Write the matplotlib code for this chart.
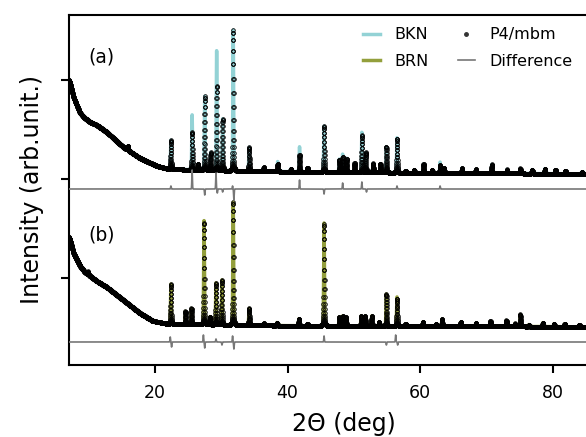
import numpy as np
import matplotlib.pyplot as plt
from matplotlib.lines import Line2D

# scan grid (deg)
two_theta = np.arange(7.0, 90.0, 0.01)

# background control points (arb. units)
bg_a_pos = [7.0, 7.2, 7.7, 8.7, 9.4, 10.2, 11.2, 12.7, 15.2, 17.7, 20.3, 22.0, 30.0, 45.0, 60.0, 90.0]
bg_a_val = [198, 195, 181, 165, 160, 156, 153, 146, 131, 120, 112, 109, 107, 106, 105, 104]
bg_b_pos = [7.0, 7.2, 7.7, 8.7, 9.4, 10.2, 11.2, 12.7, 15.2, 17.7, 19.7, 22.0, 30.0, 45.0, 60.0, 90.0]
bg_b_val = [41, 38, 25, 12, 6, 2, -3, -9, -22, -35, -43, -46, -47, -48, -48, -49]

# BKN peaks: position, fitted (P4/mbm) height, measured (BKN) height
peaks_a_pos = [15.9, 22.4, 25.6, 26.5, 27.5, 28.4, 29.3, 30.2, 31.8, 34.2, 36.4, 38.5, 40.5,
               41.8, 43.0, 45.5, 47.8, 48.3, 48.9, 50.1, 51.2, 51.8, 52.9, 54.0, 54.9, 56.5,
               57.8, 59.1, 60.5, 61.8, 63.0, 63.6, 66.3, 68.4, 70.8, 73.1, 75.1, 76.9, 78.8,
               80.4, 81.9, 84.4]
fit_a = [4, 29, 38, 6, 74, 18, 85, 52, 141, 24, 4, 8, 3,
         17, 4, 46, 12, 15, 13, 9, 37, 20, 9, 9, 26, 34,
         2, 3, 9, 3, 8, 5, 5, 4, 9, 4, 5, 4, 5,
         4, 3, 2]
obs_a = [4, 29, 55, 6, 74, 18, 120, 52, 141, 24, 4, 10, 3,
         25, 4, 46, 13, 18, 14, 9, 40, 20, 9, 9, 26, 35,
         2, 3, 9, 3, 11, 5, 5, 4, 9, 4, 5, 4, 5,
         4, 3, 2]

# BRN peaks
peaks_b_pos = [9.9, 22.4, 24.6, 25.5, 27.4, 28.3, 29.2, 30.1, 31.8, 34.2, 36.4, 38.4, 41.7,
               43.0, 45.5, 47.8, 48.3, 48.8, 51.1, 51.7, 52.7, 53.8, 54.9, 56.5, 57.8, 60.4,
               62.4, 63.3, 66.1, 68.4, 70.6, 73.0, 74.3, 75.1, 76.4, 78.5, 80.2, 81.8, 84.0]
fit_b = [3, 40, 13, 16, 102, 8, 42, 45, 123, 17, 2, 3, 7,
         2, 102, 9, 10, 9, 10, 10, 10, 4, 32, 27, 2, 4,
         2, 7, 4, 3, 5, 6, 3, 12, 2, 4, 3, 3, 2]
obs_b = [3, 40, 13, 16, 104, 8, 42, 45, 123, 17, 2, 3, 7,
         2, 103, 9, 10, 9, 10, 10, 10, 4, 32, 29, 2, 4,
         2, 7, 4, 3, 5, 6, 3, 12, 2, 4, 3, 3, 2]

# difference curves: level and residual spikes
diff_a_level = 89
diff_a_pos = [22.4, 25.6, 27.5, 29.2, 29.4, 30.2, 31.7, 31.9, 41.8, 45.5, 48.3, 51.2, 51.9, 56.5, 63.0]
diff_a_amp = [3, 19, -6, 16, -4, -3, 3, -11, 9, -5, 6, 7, -3, 3, 3]
diff_b_level = -64
diff_b_pos = [22.3, 22.5, 27.3, 27.5, 29.2, 30.1, 31.7, 31.9, 45.5, 54.9, 56.3, 56.6]
diff_b_amp = [5, -5, 7, -6, 3, -3, 6, -7, 6, -3, 7, -3]


def profile(x, pos, h, fwhm=0.13, eta=0.25):
    d = x[:, None] - np.asarray(pos)[None, :]
    g = np.exp(-4 * np.log(2) * (d / fwhm) ** 2)
    l = 1 / (1 + 4 * (d / fwhm) ** 2)
    return ((eta * l + (1 - eta) * g) * np.asarray(h)[None, :]).sum(axis=1)


bg_a = np.interp(two_theta, bg_a_pos, bg_a_val)
bg_b = np.interp(two_theta, bg_b_pos, bg_b_val)

fig = plt.figure(figsize=(5.86, 4.37), dpi=100)
ax = fig.add_axes([68.8 / 586, 1 - 365 / 437, 83 * 6.63 / 586, 350 / 437])

mk = dict(ls='none', marker='o', ms=2.6, mfc='none', mec='black', mew=0.6, zorder=2)

la, = ax.plot(two_theta, bg_a + profile(two_theta, peaks_a_pos, obs_a), color='#93d2d5', lw=2.5, zorder=1)
ax.plot(two_theta, bg_a + profile(two_theta, peaks_a_pos, fit_a), **mk)
ld, = ax.plot(two_theta, diff_a_level + profile(two_theta, diff_a_pos, diff_a_amp, fwhm=0.1, eta=0),
              color='#777777', lw=1.2, zorder=3)

lb, = ax.plot(two_theta, bg_b + profile(two_theta, peaks_b_pos, obs_b), color='#939f3c', lw=2.5, zorder=1)
ax.plot(two_theta, bg_b + profile(two_theta, peaks_b_pos, fit_b), **mk)
ax.plot(two_theta, diff_b_level + profile(two_theta, diff_b_pos, diff_b_amp, fwhm=0.1, eta=0),
        color='#777777', lw=1.2, zorder=3)

ax.text(11.9, 221, '(a)', fontsize=13.5, ha='center', va='center')
ax.text(11.9, 43, '(b)', fontsize=13.5, ha='center', va='center')

ax.set_xlim(7, 90)
ax.set_ylim(-87, 263)
ax.set_xticks([20, 40, 60, 80])
ax.set_yticks([0, 99, 198])
ax.set_yticklabels([])
ax.tick_params(direction='out', length=6, width=1.5, labelsize=12.5, pad=8)
for s in ax.spines.values():
    s.set_linewidth(1.5)

ax.set_xlabel('2Θ (deg)', fontsize=17, labelpad=7)
ax.set_ylabel('Intensity (arb.unit.)', fontsize=17, labelpad=4)

pts_h = Line2D([], [], ls='none', marker='o', ms=2.5, color='#333333')
ax.legend([la, lb, pts_h, ld], ['BKN', 'BRN', 'P4/mbm', 'Difference'], ncol=2, frameon=False,
          fontsize=11.5, loc='upper right', bbox_to_anchor=(587 / 586, 1 - 13 / 437),
          bbox_transform=fig.transFigure, handlelength=1.1, columnspacing=1.8,
          labelspacing=0.7, handletextpad=0.9)

fig.savefig('out.png', dpi=100)
